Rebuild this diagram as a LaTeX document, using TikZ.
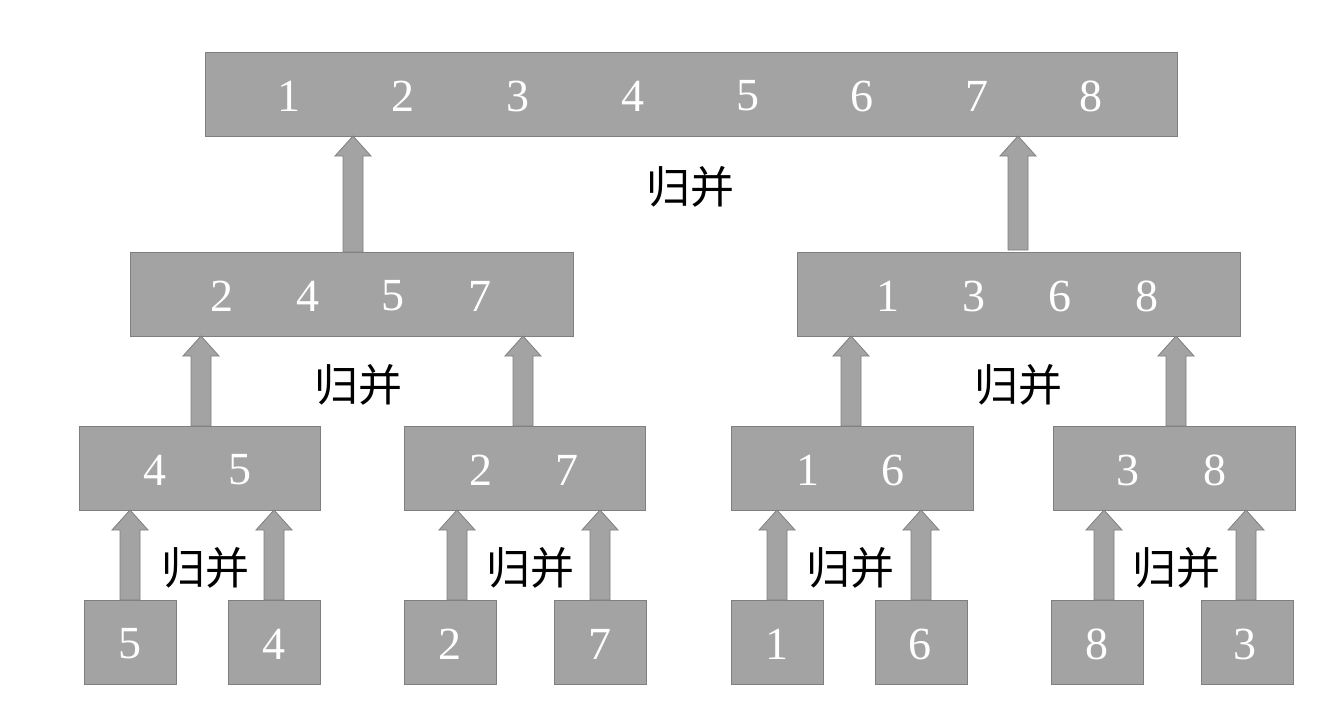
\documentclass[tikz,border=0pt]{standalone}
\usepackage{fontspec}
\setmainfont{Liberation Serif}
\newfontfamily\cjk{Noto Sans CJK SC}
\definecolor{boxg}{HTML}{A3A3A3}
\definecolor{edgeg}{HTML}{7F7F7F}
\begin{document}
\begin{tikzpicture}[x=1pt,y=-1pt,
  bx/.style={draw=edgeg,fill=boxg,line width=0.8pt,inner sep=0pt},
  num/.style={text=white,font=\fontsize{46}{46}\selectfont},
  lab/.style={font=\cjk\fontsize{44}{44}\selectfont},
  arr/.style={draw=edgeg,fill=boxg,line width=0.8pt}]
\useasboundingbox (0,0) rectangle (1344,725);
\newcommand\boxr[5]{\node[bx,minimum width=#3-#1,minimum height=#4-#2] (#5) at ({(#1+#3)/2},{(#2+#4)/2}) {};}
\newcommand\barrow[3]{\draw[arr] (#1-10,#2) -- (#1-10,#3+20) -- (#1-18,#3+20) -- (#1,#3) -- (#1+18,#3+20) -- (#1+10,#3+20) -- (#1+10,#2) -- cycle;}
% boxes
\boxr{205}{52}{1177}{136}{top}
\boxr{130}{252}{573}{336}{ml}
\boxr{797}{252}{1240}{336}{mr}
\boxr{79}{426}{320}{510}{a}
\boxr{404}{426}{645}{510}{b}
\boxr{731}{426}{973}{510}{c}
\boxr{1053}{426}{1295}{510}{d}
\boxr{84}{600}{176}{684}{l1}
\boxr{228}{600}{320}{684}{l2}
\boxr{404}{600}{496}{684}{l3}
\boxr{554}{600}{646}{684}{l4}
\boxr{731}{600}{823}{684}{l5}
\boxr{875}{600}{967}{684}{l6}
\boxr{1051}{600}{1143}{684}{l7}
\boxr{1201}{600}{1293}{684}{l8}
% numbers
\foreach \x/\t [count=\i] in {289/1,403/2,518/3,633/4,748/5,862/6,977/7,1091/8}
  \node[num] (t\i) at (\x,96) {\t};
\foreach \x/\t [count=\i] in {222/2,308/4,393/5,480/7,888/1,974/3,1060/6,1147/8}
  \node[num] (m\i) at (\x,296) {\t};
\foreach \x/\t [count=\i] in {155/4,240/5,481/2,567/7,808/1,893/6,1128/3,1215/8}
  \node[num] (s\i) at (\x,470) {\t};
\foreach \x/\t [count=\i] in {130/5,274/4,450/2,600/7,777/1,920/6,1097/8,1245/3}
  \node[num] (p\i) at (\x,644) {\t};
% arrows
\barrow{353}{252}{136}
\barrow{1018}{250}{136}
\barrow{201}{426}{336}
\barrow{523}{426}{336}
\barrow{851}{426}{336}
\barrow{1176}{426}{336}
\foreach \x in {130,274,457,600,777,921,1104,1246} {\barrow{\x}{600}{510}}
% labels
\node[lab] (g0) at (690,187) {归并};
\node[lab] (g1) at (358,385) {归并};
\node[lab] (g2) at (1018,385) {归并};
\node[lab] (g3) at (205,568) {归并};
\node[lab] (g4) at (530,568) {归并};
\node[lab] (g5) at (850,568) {归并};
\node[lab] (g6) at (1176,568) {归并};
\end{tikzpicture}
\end{document}
